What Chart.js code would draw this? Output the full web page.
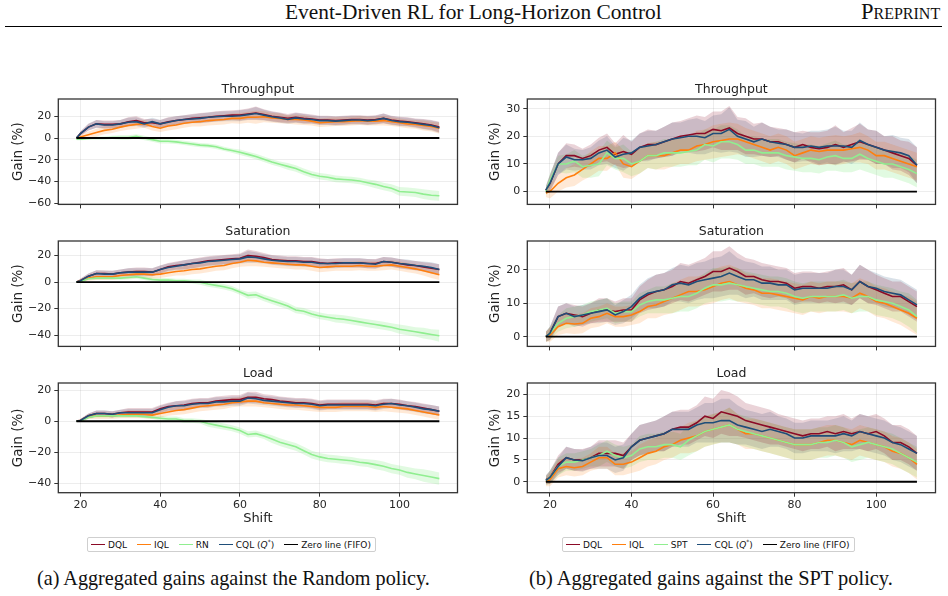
<!DOCTYPE html>
<html><head><meta charset="utf-8">
<script src="https://cdn.jsdelivr.net/npm/chart.js@4/dist/chart.umd.min.js"></script>
<style>
html,body{margin:0;padding:0;background:#fff;}
body{width:948px;height:596px;position:relative;overflow:hidden;font-family:'DejaVu Sans',sans-serif;}
canvas{position:absolute;}
.abs{position:absolute;white-space:nowrap;}
.serif{font-family:'Liberation Serif',serif;color:#111;line-height:1;}
.legend{position:absolute;top:537px;height:15px;box-sizing:border-box;border:1px solid #cfcfcf;border-radius:2px;background:#fff;display:flex;align-items:center;padding:0 4px 0 3px;font-size:9px;color:#111;white-space:nowrap;}
.legend .it{display:flex;align-items:center;margin-right:10px;}
.legend .it:last-child{margin-right:0;}
.legend .sw{display:inline-block;width:14px;height:0;border-top:1.6px solid #000;margin-right:3px;}
.legend sup{font-size:6px;line-height:0;vertical-align:4px;}
</style></head>
<body>
<div id="hdrTitle" class="abs serif">Event-Driven RL for Long-Horizon Control</div>
<div id="hdrPre" class="abs serif" style="font-variant:small-caps;">Preprint</div>
<div class="abs" style="left:5px;top:26px;width:937px;height:0;border-top:1px solid #000;"></div>
<div id="legL" class="legend"></div>
<div id="legR" class="legend"></div>
<div id="capA" class="abs serif">(a) Aggregated gains against the Random policy.</div>
<div id="capB" class="abs serif">(b) Aggregated gains against the SPT policy.</div>
<script>
// ---------------- DATA ----------------
const shifts=[19,20,22,24,26,28,30,32,34,36,38,40,42,44,46,48,50,52,54,56,58,60,62,64,66,68,70,72,74,76,78,80,82,84,86,88,90,92,94,96,98,100,102,104,106,108,110];
const xTicks=[20,40,60,80,100];

// (a) against Random policy
const thrRandDQL=[0,4,10,13,12.5,12.5,13,15,16,14, 14,13,15,16,17,18,18.5,19,20,20.5, 21,21,22,23,21.5,20,19,18,19,18, 17.5,16.5,16.5,16,16.5,17,17,16.5,17,18, 16.5,15.5,15,14,13,12,10];
const thrRandCQL=[0,4,10,13,12,12,13,14.5,15,13, 15,13,14.5,16,17,17.5,18,19,19.5,20, 20,20.5,21.5,22.5,21,19.5,18.5,17,18.5,17.5, 17,16,16,15.5,16,16.5,16.5,16,16.5,18, 16,15,14.5,13.5,12.5,11.5,9.5];
const thrRandIQL=[0,1,3,5,7,8,10,11.5,12.5,13, 10.5,9,11,12,13.5,14.5,15,16,16.5,17, 18,18,19,19,19.5,18.5,18,17,17,16.5, 15.5,14,14.5,15,15,15.5,16,15.5,15.5,16, 15,14,13,12.5,11.5,10.5,9];
const thrRandRN=[-1,-1,-0.5,0,0,0.5,0.5,0.5,1.5,0, -1.5,-3,-3,-3.5,-4.5,-5.5,-6.5,-7,-8,-10, -11.5,-13,-15,-17,-19.5,-22,-24,-26,-28,-31, -33.5,-35,-36,-37.5,-38,-38.5,-39.5,-41,-42.5,-44.5, -46,-49,-49.5,-50,-51.5,-52.5,-53];
const thrRandSpreadRL=[0.5,2,3,3.5,3.5,3.5,3.5,4,4,3.5, 3.5,3.5,4,4,4,4,4.5,4.5,4.5,4.5, 4.5,5,5,6,5,4.5,4.5,4,4.5,4.5, 4,4,4,4,4,4,4,4,4,4.5, 4,4,4,4,4.5,4.5,5];
const thrRandSpreadRN=[1,1,1,1.5,1.5,1.5,2,2,2,2, 2,2,2,2,2,2,2,2,2,2, 2,2.5,2.5,2.5,2.5,2.5,2.5,3,3,3, 3,3,3,3,3,3,3,3,3.5,3.5, 3.5,4,4,4,4.5,4.5,4.5];

const satRandDQL=[0,1,4.5,6.5,6.5,6,7,7.5,8,8, 7.5,9.5,11.5,12.5,13,14,15,16,16.5,17, 17.5,18,20,19.5,18.5,17,16.5,16,16,15.5, 15.5,14.5,14,14.5,14.5,14.5,14.5,14,14,15.5, 15,14,13,12.5,11.5,10.5,9.5];
const satRandCQL=[0,1,4.5,6.5,6,6,7,7.5,7.5,7.5, 7.5,9.5,11,12,13,14,14.5,15.5,16,16.5, 17,17.5,19,18.5,17.5,16.5,16,15.5,15.5,15, 15,14,14,14,14.5,14.5,14.5,14,13.5,15.5, 15,14,13.5,12.5,12,11,9.5];
const satRandIQL=[0,1,3,4,4,4,5,5.5,6,6, 5.5,6,7,8,8.5,9.5,10,11,12,12.5, 14,15,16.5,16,15,14.5,14,13.5,13,13, 12,11,11.5,12,12,12,12.5,12,12,12.5, 13,12,11,10,8.5,7,5.5];
const satRandRN=[0,0.5,2.5,3,3,3,3,3.5,4,3, 2,1.5,1.5,1,1,0.5,0,-1.5,-2.5,-3.5, -5,-7.5,-10,-9.5,-12,-14,-16,-18,-21,-22, -24,-25.5,-26.5,-27.5,-28,-29,-30,-31,-32,-33, -34,-35.5,-36.5,-37.5,-38.5,-39.5,-40.5];
const satRandSpreadRL=[0.5,1.5,2,2.5,2.5,2.5,2.5,3,3,3, 3,3,3,3,3.5,3.5,3.5,3.5,3.5,3.5, 3.5,3.5,4.5,4,3.5,3.5,3.5,3.5,3.5,3.5, 3.5,3.5,3.5,3.5,3.5,3.5,3.5,3.5,3.5,3.5, 3.5,3.5,3.5,3.5,3.5,4,4];
const satRandSpreadRN=[0.5,1,1,1,1,1,1.5,1.5,1.5,1.5, 1.5,1.5,1.5,1.5,1.5,1.5,2,2,2,2, 2,2,2.5,2.5,2.5,2.5,2.5,2.5,2.5,2.5, 2.5,2.5,2.5,3,3,3,3,3,3,3, 3,3.5,3.5,3.5,4,4,4.5];

const loadRandDQL=[0,0.5,3.5,5,5,4.5,5.5,6,6,6, 6,8,9.5,10,10.5,11.5,12,12,13,13.5, 14,14,15.5,15.5,14.5,14,13,12.5,12,12, 11.5,10.5,11,11,11,11,11,11,10.5,11.5, 11.5,11,10,9.5,8.5,7.5,6.5];
const loadRandCQL=[0,0.5,3.5,5,5,4.5,5.5,5.5,5.5,5.5, 5.5,7.5,9,10,10,11,11.5,11.5,12.5,12.5, 13,13,15,14.5,13.5,13,12.5,12,11.5,11.5, 11,10,10.5,10.5,10.5,10.5,10.5,10.5,10,11, 11.5,10.5,10,9,8,7.5,6.5];
const loadRandIQL=[0,0.5,3,3.5,3.5,3.5,4,4.5,4.5,4.5, 4,5,6,7,7.5,8.5,9.5,10,10.5,11, 12,12.5,13,13,12,11.5,11,10.5,10.5,10, 9.5,9,9,9,9.5,9.5,9.5,9.5,9,9.5, 9,8.5,8,7,6,5,4];
const loadRandRN=[0,0,2.5,3.5,3.5,3.5,3.5,3.5,3.5,3, 2.5,2,1.5,1.5,0.5,0.5,0,-1.5,-2.5,-3.5, -4.5,-6,-8.5,-8,-9.5,-11.5,-13.5,-15,-16.5,-19, -21.5,-23,-24,-24.5,-25,-25.5,-26.5,-27,-28,-29, -30.5,-31.5,-33,-34,-35,-36,-37];
const loadRandSpreadRL=[0.5,1,1.5,2,2,2,2,2.5,2.5,2.5, 2.5,2.5,2.5,3,3,3,3,3,3,3, 3,3,3.5,3.5,3,3,3,3,3,3, 3,3,3,3,3,3,3,3,3,3, 3,3,3,3,3,3,3];
const loadRandSpreadRN=[0.5,0.5,1,1,1,1,1,1,1,1, 1,1.5,1.5,1.5,1.5,1.5,1.5,2,2,2, 2,2,2,2,2,2.5,2.5,2.5,2.5,2.5, 2.5,2.5,2.5,2.5,2.5,2.5,2.5,2.5,3,3, 3,3,3.5,3.5,4,4,4];

// (b) against SPT policy
const thrSptDQL=[0.5,3,10,13,13,12,13,15,16,13.5, 14.5,13.5,16,17,17,18,19,20,20.5,21, 21,22.5,22,23,21,20,19,19,18,18, 17,16,17,16,15.5,16,17,16,17,18, 17,16,15,14,13,12,9.5];
const thrSptCQL=[0.5,3,10,12.5,11.5,11.5,12,14,15,12.5, 13.5,14,16,16.5,17,18,19,19.5,20,20, 19.5,21,21,22.5,20,19,18,19,18,17.5, 17,16,16,16.5,16,16.5,16.5,16.5,16,18.5, 17,16,15,14.5,14,13,9.5];
const thrSptIQL=[-0.5,0,3,5,6,8,10,12,12,14, 10,9,11,13,13,13,14,15,15,16.5, 17,18,18.5,19,19,18,17,16,15,16, 15,13,14,15,14.5,15,15,15,15.5,16, 15,13,13,12,11,10,9];
const thrSptSPT=[0,4,10,10,11,9,9.5,10,14,12, 12,10,11,13,13,14,14,14,14.5,15, 17,16.5,18,18,17,15,15,14,14,14, 13,12.5,12,12,11.5,12.5,13,12,12,13.5, 12,11,10,10,9,8,6.5];
const thrSptSpreadRL=[1.5,3,4,4.5,4,3.5,4,4.5,5,4, 6,4.5,5,5.5,5,5.5,6,5.5,6,6.5, 6,6.5,7,8,6,6.5,5.5,6,5.5,5, 5.5,5.5,5,5.5,6,6,7,5.5,6,6.5, 5.5,6,5,6,5.5,6,6.5];
const thrSptSpreadBase=[1.5,2.5,3,3.5,4,4,4.5,4.5,4.5,4, 5,4.5,4.5,4.5,5,5,5,5,5,5.5, 5.5,6,6,6,5.5,5,5,5,5,5, 5,5,5,5,5,5,5.5,5,5,5.5, 5,5,5,5,5,5,5];

const satSptDQL=[0,1,6,7,6.5,6,7,8,8,7.5, 8,8,11,12.5,13.5,14,15,16.5,16,17, 18,19.5,19.5,20.5,19.5,18,18,17,16.5,16.5, 16,14.5,15,15,14.5,15,15,15.5,14,16.5, 15,14,13,12,12,10.5,9];
const satSptCQL=[0,1,6,7,6,6.5,7,7.5,8,6.5, 7.5,9,11.5,13,13.5,14,15.5,16,15.5,16.5, 17,17.5,18,19,18,17,17,16,16,15.5, 15.5,14,14.5,14.5,14.5,14.5,15,15,14,16.5, 15,14.5,13.5,13,12.5,11,9.5];
const satSptIQL=[0,0.5,3,4,3.8,4,5.5,6,7,6, 6,6.5,7.5,9,9.5,10.5,11.5,12.5,13.5,13.5, 14,15,16,16.5,15.5,14.5,14,13,13,12.5, 12,11.5,11,12,11.5,12,12,12,11.5,13, 12,10.5,10,9,8,7,5.5];
const satSptSPT=[0,1,4,5.5,6,6.5,7.5,8,8.5,7, 7.5,7.5,9.5,10.5,11,11,11.5,12,12,13, 14.5,15.5,15.5,16,15.5,15,14.5,14,13.5,13.5, 13,12,11.5,12,12,12,12,12.5,11.5,12, 12,11,10.5,10,9,8,6];
const satSptSpreadRL=[1.5,2,3,3,3,3,3,3.5,3.5,3, 3.5,3.5,4,4.5,5,5,5,5.5,5.5,5.5, 5.5,6,6,6.5,5.5,5.5,5,5,5,4.5, 4.5,4.5,4.5,4.5,4.5,4.5,5,5,4.5,5, 5,4.5,4.5,4.5,4.5,4.5,4.5];
const satSptSpreadBase=[1.5,2,2.5,3,3,3,3,3,3,3, 3,3,3.5,3.5,4,4,4.5,4.5,4.5,4.5, 4.5,5,5,5,5,4.5,4.5,4.5,4.5,4.5, 4.5,4.5,4.5,4.5,4.5,4.5,4.5,4.5,4.5,4.5, 4.5,4.5,4.5,4.5,4.5,5,5];

const loadSptDQL=[0.5,1,4,5.5,5,5,5.5,6.5,6.5,6.5, 6,8,9.5,10,10.5,11,12,12.5,12.5,13.5, 15,14.5,16,15.5,15,14,13.5,13,12.5,12, 11.5,11,10.5,11,11,11.5,11,11.5,11,11.5, 11,11.5,10.5,9,9,8,6.5];
const loadSptCQL=[0.3,1,3.5,5.5,5,4.8,5.5,6,6,5, 5.5,8,9.5,10,10.5,11,12,12,12,13, 13.5,13.5,14,14,13,12.5,12,11.5,12,11.5, 11,10,10,10.5,10.5,10.5,10.5,11,10.5,11.5, 11,10.5,10,9,8.5,7.5,6.5];
const loadSptIQL=[0,0.5,3,3.5,3.2,3.5,4.5,5.5,5.5,4, 4,4.5,5.5,6.5,7,8,8.5,9.5,10,10.5, 11.5,12,12.5,13,12,11,11,10.5,10,9.5, 9,8.5,8.5,8.5,9,9.5,9.5,9,8.5,9.5, 9,8.5,8,7,6.5,5.5,4];
const loadSptSPT=[0.3,1,3.5,4.5,4.5,5,5.5,6,7,6, 5.5,6,7.5,8,8,8.5,8.5,8,9.5,10.5, 11.5,12,12.5,13,12,11.5,11,10.5,10,9.5, 9,8.5,8.5,8.5,9,9,9.5,9,8,8.5, 9,8.5,8,7.5,6.5,5.5,4.5];
const loadSptSpreadRL=[1,1.5,2,2.5,2.5,2.5,2.5,3,3,3, 3,3,3.5,3.5,3.5,4,4,4,4,4, 4.5,4.5,5,5,4.5,4,4,4,4,3.5, 3.5,3.5,3.5,3.5,3.5,3.5,4,4,3.5,4, 4,4,4,4,4,4,4];
const loadSptSpreadBase=[1,1.5,2,2,2,2,2,2.5,2.5,2.5, 2.5,2.5,3,3,3,3,3,3,3.5,3.5, 3.5,3.5,3.5,4,3.5,3.5,3.5,3.5,3.5,3.5, 3.5,3.5,3.5,3.5,3.5,3.5,3.5,3.5,3.5,3.5, 3.5,3.5,3.5,3.5,3.5,3.5,3.5];

const legendLabelsRandom=['DQL','IQL','RN','CQL (<i>Q</i><sup>*</sup>)','Zero line (FIFO)'];
const legendLabelsSpt=['DQL','IQL','SPT','CQL (<i>Q</i><sup>*</sup>)','Zero line (FIFO)'];

// ---------------- STYLE / LAYOUT ----------------
const COLORS={DQL:'#8b0a26',IQL:'#ff7f0e',BASE:'#90ee90',CQL:'#1f4e79',ZERO:'#000000'};
const FILLS={DQL:'rgba(139,10,38,0.18)',IQL:'rgba(255,127,14,0.17)',BASE:'rgba(144,238,144,0.27)',CQL:'rgba(31,78,121,0.17)'};
const COLS={L:{canvasLeft:0,padLeft:6.7,plotLeft:58.3,plotRight:457.5},R:{canvasLeft:474,padLeft:9.2,plotLeft:527.3,plotRight:935.5}};
const ROWS=[{top:99.3,bottom:208},{top:240.7,bottom:349.6},{top:382.7,bottom:492.7}];
const TITLE_H=24;
Chart.defaults.font.family="'DejaVu Sans'";

const panels=[
 {col:'L',row:0,title:'Throughput',yMin:-60.9,yMax:35.8,yTicks:[-60,-40,-20,0,20],dql:thrRandDQL,iql:thrRandIQL,base:thrRandRN,cql:thrRandCQL,sRL:thrRandSpreadRL,sIQL:thrRandSpreadRL,sBase:thrRandSpreadRN,baseName:'RN'},
 {col:'L',row:1,title:'Saturation',yMin:-48.5,yMax:31,yTicks:[-40,-20,0,20],dql:satRandDQL,iql:satRandIQL,base:satRandRN,cql:satRandCQL,sRL:satRandSpreadRL,sIQL:satRandSpreadRL,sBase:satRandSpreadRN,baseName:'RN'},
 {col:'L',row:2,title:'Load',yMin:-46.1,yMax:24.7,yTicks:[-40,-20,0,20],dql:loadRandDQL,iql:loadRandIQL,base:loadRandRN,cql:loadRandCQL,sRL:loadRandSpreadRL,sIQL:loadRandSpreadRL,sBase:loadRandSpreadRN,baseName:'RN'},
 {col:'R',row:0,title:'Throughput',yMin:-4.65,yMax:33.5,yTicks:[0,10,20,30],dql:thrSptDQL,iql:thrSptIQL,base:thrSptSPT,cql:thrSptCQL,sRL:thrSptSpreadRL,sIQL:thrSptSpreadBase,sBase:thrSptSpreadBase,baseName:'SPT'},
 {col:'R',row:1,title:'Saturation',yMin:-2.9,yMax:28.6,yTicks:[0,10,20],dql:satSptDQL,iql:satSptIQL,base:satSptSPT,cql:satSptCQL,sRL:satSptSpreadRL,sIQL:satSptSpreadBase,sBase:satSptSpreadBase,baseName:'SPT'},
 {col:'R',row:2,title:'Load',yMin:-2.5,yMax:22.6,yTicks:[0,5,10,15,20],dql:loadSptDQL,iql:loadSptIQL,base:loadSptSPT,cql:loadSptCQL,sRL:loadSptSpreadRL,sIQL:loadSptSpreadBase,sBase:loadSptSpreadBase,baseName:'SPT'}
];

const framePlugin={id:'frame',afterDatasetsDraw(c){const a=c.chartArea,ctx=c.ctx;ctx.save();ctx.strokeStyle='#333';ctx.lineWidth=1.3;ctx.strokeRect(a.left,a.top,a.right-a.left,a.bottom-a.top);ctx.restore();}};

function pts(arr){return shifts.map((s,i)=>({x:s,y:arr[i]}));}
function edge(arr,spr,sign){return shifts.map((s,i)=>({x:s,y:arr[i]+sign*spr[i]}));}
function fmt(v){return v<0?'\u2212'+Math.abs(v):String(v);}

function makePanel(p){
  const col=COLS[p.col],row=ROWS[p.row];
  const xAxisH=p.row===2?38:6;
  const canvasLeft=col.canvasLeft;
  const canvasTop=Math.round(row.top-TITLE_H);
  const width=Math.ceil(col.plotRight-canvasLeft+8);
  const height=Math.ceil(row.bottom-canvasTop+xAxisH);
  const padRight=width-(col.plotRight-canvasLeft);
  const padBottom=height-(row.bottom-canvasTop)-xAxisH;
  const yW=col.plotLeft-canvasLeft-col.padLeft;
  const cv=document.createElement('canvas');
  cv.width=width;cv.height=height;
  cv.style.left=canvasLeft+'px';cv.style.top=canvasTop+'px';
  cv.style.width=width+'px';cv.style.height=height+'px';
  document.body.appendChild(cv);
  const L=(label,data,color,w)=>({label,data,borderColor:color,backgroundColor:color,borderWidth:w,pointRadius:0,tension:0,fill:false});
  const lines=[
    L('Zero line (FIFO)',shifts.map(s=>({x:s,y:0})),COLORS.ZERO,1.8),
    L('CQL',pts(p.cql),COLORS.CQL,1.6),
    L(p.baseName,pts(p.base),COLORS.BASE,1.6),
    L('IQL',pts(p.iql),COLORS.IQL,1.6),
    L('DQL',pts(p.dql),COLORS.DQL,1.6)
  ];
  const bandDefs=[[p.dql,p.sRL,FILLS.DQL],[p.iql,p.sIQL,FILLS.IQL],[p.cql,p.sRL,FILLS.CQL],[p.base,p.sBase,FILLS.BASE]];
  const bands=[];
  bandDefs.forEach(([a,s,f])=>{
    bands.push({label:'lo',data:edge(a,s,-1),borderWidth:0,borderColor:'rgba(0,0,0,0)',pointRadius:0,tension:0,fill:false});
    bands.push({label:'hi',data:edge(a,s,1),borderWidth:0,borderColor:'rgba(0,0,0,0)',backgroundColor:f,pointRadius:0,tension:0,fill:'-1'});
  });
  new Chart(cv,{
    type:'line',
    data:{datasets:lines.concat(bands)},
    plugins:[framePlugin],
    options:{
      responsive:false,animation:false,devicePixelRatio:1,parsing:true,
      layout:{padding:{left:col.padLeft,right:padRight,top:0,bottom:padBottom}},
      plugins:{legend:{display:false},tooltip:{enabled:false},
        title:{display:true,text:p.title,fullSize:false,color:'#222',font:{size:12.5,weight:'normal',lineHeight:1.2},padding:{top:7,bottom:2}}},
      scales:{
        x:{type:'linear',min:14.45,max:114.55,
          afterBuildTicks:s=>{s.ticks=xTicks.map(v=>({value:v}));},
          afterFit:s=>{s.height=xAxisH;},
          border:{display:false},
          grid:{color:'rgba(0,0,0,0.09)',lineWidth:0.8,tickColor:'#333',tickLength:4,tickWidth:1},
          ticks:{display:p.row===2,color:'#262626',font:{size:11},padding:2,maxRotation:0,autoSkip:false,callback:fmt},
          title:{display:p.row===2,text:'Shift',color:'#222',font:{size:13},padding:{top:4,bottom:4}}},
        y:{type:'linear',min:p.yMin,max:p.yMax,
          afterBuildTicks:s=>{s.ticks=p.yTicks.map(v=>({value:v}));},
          afterFit:s=>{s.width=yW;},
          border:{display:false},
          grid:{color:'rgba(0,0,0,0.09)',lineWidth:0.8,tickColor:'#333',tickLength:4,tickWidth:1},
          ticks:{color:'#262626',font:{size:11},padding:3,autoSkip:false,callback:fmt},
          title:{display:true,text:'Gain (%)',color:'#222',font:{size:13.5},padding:{top:4,bottom:4}}}
      }
    }
  });
}
panels.forEach(makePanel);

// legends
function buildLegend(id,labels,center){
  const el=document.getElementById(id);
  const cols=[COLORS.DQL,COLORS.IQL,COLORS.BASE,COLORS.CQL,COLORS.ZERO];
  el.innerHTML=labels.map((t,i)=>'<span class="it"><span class="sw" style="border-top-color:'+cols[i]+'"></span><span>'+t+'</span></span>').join('');
  const w=el.offsetWidth;
  el.style.left=(center-w/2)+'px';
}
buildLegend('legL',legendLabelsRandom,231.5);
buildLegend('legR',legendLabelsSpt,708.5);

// serif texts fitted to width
function fitText(id,left,width,baseline,align){
  const el=document.getElementById(id);
  el.style.fontSize='100px';
  const w=el.offsetWidth;
  const fs=100*width/w;
  el.style.fontSize=fs+'px';
  const w2=el.offsetWidth;
  el.style.left=(align==='right'?left+width-w2:left)+'px';
  el.style.top=(baseline-0.8375*fs)+'px';
}
fitText('hdrTitle',285,377,19.5);
fitText('hdrPre',862,78,19.5,'right');
fitText('capA',37,393,585);
fitText('capB',529,364,585);
</script>
</body></html>
